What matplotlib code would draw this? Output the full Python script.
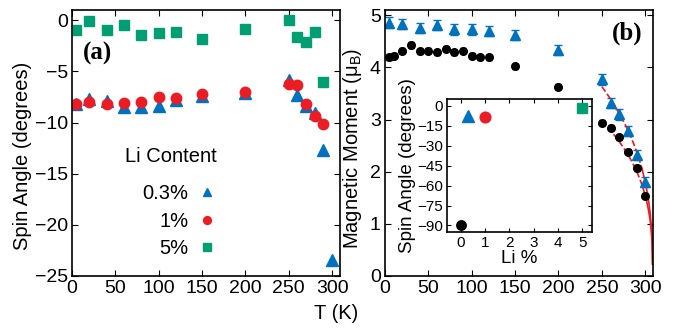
import numpy as np
import matplotlib
matplotlib.use("Agg")
import matplotlib.pyplot as plt

plt.rcParams["font.family"] = ["Liberation Sans", "DejaVu Sans"]
plt.rcParams["mathtext.fontset"] = "custom"
plt.rcParams["mathtext.rm"] = "Liberation Sans"

# colours
BLUE = "#0072bd"
RED = "#ec1c24"
GREEN = "#009e73"

# panel (a): spin angle vs T for three Li contents
T_a = [5, 20, 40, 60, 80, 100, 120, 150, 200, 250, 260, 270, 280, 290]
T_a_blue = T_a + [300]
ang_03 = [-8.2, -7.7, -7.9, -8.5, -8.45, -8.4, -7.75, -7.4, -7.1,
          -5.8, -7.3, -8.4, -9.05, -12.7, -23.4]
ang_1 = [-8.17, -8.04, -8.17, -8.1, -8.0, -7.5, -7.58, -7.25, -7.06,
         -6.2, -6.3, -8.17, -9.35, -10.1]
ang_5 = [-1.0, -0.1, -1.0, -0.42, -1.47, -1.24, -1.14, -1.83, -0.85,
         0.05, -1.63, -2.15, -1.17, -6.0]

# panel (b): magnetic moment vs T
T_blk = [5, 10, 20, 30, 40, 50, 60, 70, 80, 90, 100, 110, 120, 150, 200,
         250, 260, 270, 280, 290, 300]
M_blk = [4.19, 4.22, 4.32, 4.43, 4.31, 4.32, 4.29, 4.36, 4.29, 4.32, 4.22,
         4.19, 4.19, 4.02, 3.63, 2.94, 2.84, 2.66, 2.38, 2.07, 1.54]
T_blu = [5, 20, 40, 60, 80, 100, 120, 150, 200, 250, 260, 270, 280, 290, 300]
M_blu = [4.86, 4.83, 4.75, 4.81, 4.73, 4.73, 4.70, 4.62, 4.33,
         3.77, 3.32, 3.10, 2.78, 2.32, 1.80]
err_blu = 0.1
err_blk = 0.05

# power-law fits M0 * (1 - T/Tc)^beta
Tc = 308.5
fit_blu = (6.65, 0.364)
fit_blk = (5.23, 0.340)

# inset: low-T spin angle vs Li %
li_pct = [0, 0.3, 1, 5]
li_ang = [-90, -7.6, -8.5, -1.3]

fig = plt.figure(figsize=(6.9, 3.33), dpi=100)
ax1 = fig.add_axes([0.1043, 0.1712, 0.3884, 0.7988])
ax2 = fig.add_axes([0.558, 0.1712, 0.3884, 0.7988])
ins = fig.add_axes([0.648, 0.303, 0.210, 0.399])

for ax in (ax1, ax2, ins):
    ax.tick_params(direction="in", top=True, right=True, length=4, width=0.8)
    for s in ax.spines.values():
        s.set_linewidth(1.2)
for ax in (ax1, ax2):
    ax.tick_params(labelsize=14, pad=3)

# ---- panel (a)
ax1.plot(T_a_blue, ang_03, "^", color=BLUE, ms=8.5, ls="none", label="0.3%")
ax1.plot(T_a, ang_1, "o", color=RED, ms=7.5, ls="none", label="1%")
ax1.plot(T_a, ang_5, "s", color=GREEN, ms=7, ls="none", label="5%")
ax1.set_xlim(0, 309)
ax1.set_ylim(-25, 1)
ax1.set_xticks(range(0, 301, 50))
ax1.set_yticks([0, -5, -10, -15, -20, -25])
ax1.set_ylabel("Spin Angle (degrees)", fontsize=14.5, labelpad=2)
ax1.yaxis.label.set_y(0.453)
ax1.text(0.04, 0.838, "(a)", transform=ax1.transAxes, fontsize=18,
         fontweight="bold", family="Liberation Serif", va="center")
ax1.text(0.37, 0.451, "Li Content", transform=ax1.transAxes, fontsize=14.5,
         ha="center", va="center")
ax1.legend(markerfirst=False, frameon=False, fontsize=14.5, loc="upper left",
           bbox_to_anchor=(0.226, 0.383), labelspacing=0.42, borderpad=0,
           handletextpad=0.4, handlelength=1.0, markerscale=0.75)

# ---- panel (b)
ax2.errorbar(T_blu, M_blu, yerr=err_blu, fmt="^", color=BLUE, ms=6.7,
             ecolor=BLUE, elinewidth=1, capsize=3)
ax2.errorbar(T_blk, M_blk, yerr=err_blk, fmt="o", color="black", ms=5.5,
             ecolor="black", elinewidth=1, capsize=2)
for M0, beta in (fit_blu, fit_blk):
    tt = np.linspace(250, 297, 100)
    ax2.plot(tt, M0 * (1 - tt / Tc) ** beta, "--", color=RED, lw=1.2)
    tt = np.linspace(296, Tc - 0.03, 200)
    ax2.plot(tt, M0 * (1 - tt / Tc) ** beta, "-", color=RED, lw=1.2)
ax2.set_xlim(0, 309)
ax2.set_ylim(0, 5.1)
ax2.set_xticks(range(0, 301, 50))
ax2.set_yticks(range(0, 6))
ax2.set_ylabel("Magnetic Moment (μ$_\\mathregular{B}$)", fontsize=14.5,
               labelpad=4)
ax2.yaxis.label.set_y(0.48)
ax2.text(0.847, 0.914, "(b)", transform=ax2.transAxes, fontsize=18,
         fontweight="bold", family="Liberation Serif", va="center")

fig.text(0.487, 0.06, "T (K)", fontsize=14.5, ha="center", va="center")

# ---- inset
ins_styles = [("o", "black", 6.8), ("^", BLUE, 8), ("o", RED, 7.7),
              ("s", GREEN, 7.2)]
for x, y, (m, c, s) in zip(li_pct, li_ang, ins_styles):
    ins.plot(x, y, m, color=c, ms=s)
ins.set_xlim(-0.55, 5.4)
ins.set_ylim(-95, 5)
ins.set_xticks(range(0, 6))
ins.set_yticks(range(0, -91, -15))
ins.tick_params(labelsize=11, length=3, pad=3)
ins.set_xlabel("Li %", fontsize=13.5, labelpad=0)
ins.set_ylabel("Spin Angle (degrees)", fontsize=13.5, labelpad=1)

fig.savefig("out.png", dpi=100)
